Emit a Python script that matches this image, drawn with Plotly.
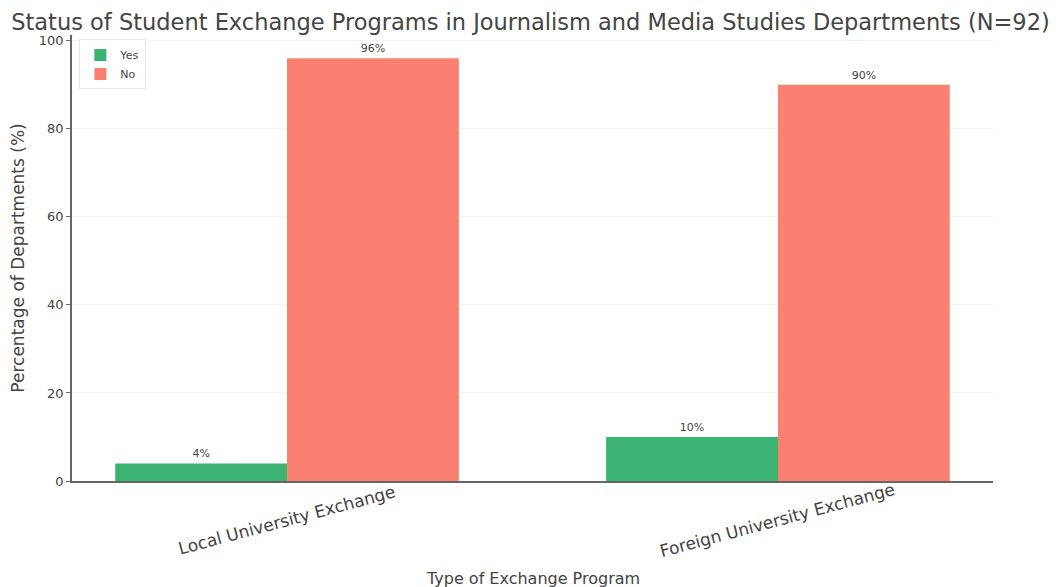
import plotly.graph_objects as go

# Survey results (N=92 departments)
categories = ["Local University Exchange", "Foreign University Exchange"]
yes_pct = [4, 10]
no_pct = [96, 90]
series_names = ["Yes", "No"]

GREEN = "#3CB371"
SALMON = "#FA8072"
FONT = "DejaVu Sans, Verdana, sans-serif"
TEXT = "#444"

fig = go.Figure()
for name, vals, color in [(series_names[0], yes_pct, GREEN), (series_names[1], no_pct, SALMON)]:
    fig.add_trace(go.Bar(
        name=name,
        x=categories,
        y=vals,
        marker=dict(color=color, line=dict(width=0)),
        text=[f"{v}%" for v in vals],
        textposition="outside",
        textfont=dict(family=FONT, size=11, color=TEXT),
        cliponaxis=False,
    ))

# Rotated category labels centred under each group
for cat in categories:
    fig.add_annotation(
        x=cat, xref="x", y=-0.088, yref="paper",
        text=cat, showarrow=False, textangle=-15,
        yanchor="middle", xanchor="center",
        font=dict(family=FONT, size=17, color=TEXT),
    )

# Axis titles
fig.add_annotation(
    x=0.5, xref="paper", y=-0.218, yref="paper",
    text="Type of Exchange Program", showarrow=False,
    xanchor="center", yanchor="middle",
    font=dict(family=FONT, size=16, color=TEXT),
)
fig.add_annotation(
    x=-0.059, xref="paper", y=0.5, yref="paper",
    text="Percentage of Departments (%)", showarrow=False, textangle=-90,
    xanchor="center", yanchor="middle",
    font=dict(family=FONT, size=17, color=TEXT),
)

fig.update_layout(
    width=1061, height=587,
    paper_bgcolor="white", plot_bgcolor="white",
    margin=dict(l=72, r=68, t=35, b=106),
    barmode="group", bargap=0.3, bargroupgap=0,
    title=dict(
        text="Status of Student Exchange Programs in Journalism and Media Studies Departments (N=92)",
        x=0.5, xanchor="center", y=0.962, yanchor="middle",
        font=dict(family=FONT, size=22.5, color=TEXT),
    ),
    legend=dict(
        x=0.008, y=0.99, xanchor="left", yanchor="top",
        bgcolor="rgba(255,255,255,0.8)", bordercolor="#e6e6e6", borderwidth=1,
        font=dict(family=FONT, size=11, color=TEXT),
        itemwidth=30, tracegroupgap=2,
    ),
    showlegend=True,
)

fig.update_xaxes(
    range=[-0.438, 1.438],
    showticklabels=False, ticks="",
    showline=True, linecolor="#666", linewidth=1.5,
    showgrid=False, zeroline=False,
)

fig.update_yaxes(
    range=[0, 101.3],
    tickvals=[0, 20, 40, 60, 80, 100],
    ticks="outside", ticklen=4, tickcolor="#666",
    tickfont=dict(family=FONT, size=13, color=TEXT),
    showline=True, linecolor="#666", linewidth=1.5,
    showgrid=True, gridcolor="#f2f2f2", zeroline=False,
)

fig.write_html("out.html")
